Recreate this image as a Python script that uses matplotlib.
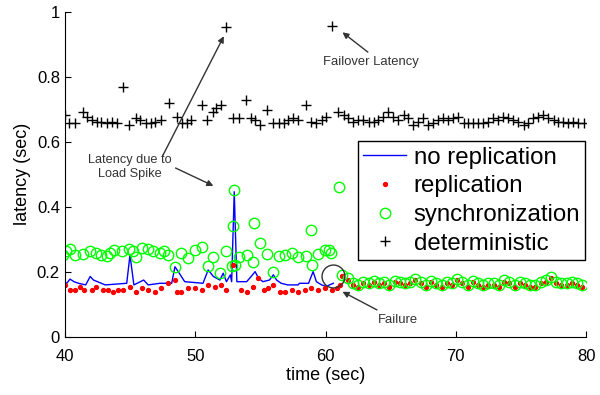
import matplotlib

matplotlib.use("Agg")
import matplotlib.pyplot as plt

plt.rcParams["font.family"] = ["Liberation Sans", "DejaVu Sans"]

# no replication (blue line)
t_norep = [39.9, 40.15, 40.4, 40.7, 41.05, 41.6, 41.95, 42.2, 43.1, 44.75, 45.0, 45.3,
           46.05, 46.4, 47.3, 48.2, 48.45, 48.7, 49.2, 50.6, 51.0, 51.4, 51.9, 52.15,
           52.4, 52.7, 52.8, 53.0, 53.2, 53.95, 54.3, 54.6, 54.85, 55.2, 55.7, 56.0,
           56.25, 56.6, 57.1, 57.9, 58.0, 58.7, 59.05, 59.3, 59.7, 60.1, 60.3, 60.6]
v_norep = [0.169, 0.164, 0.177, 0.169, 0.164, 0.159, 0.185, 0.174, 0.159, 0.164, 0.251, 0.159,
           0.174, 0.159, 0.164, 0.164, 0.215, 0.200, 0.169, 0.164, 0.205, 0.185, 0.174, 0.195,
           0.169, 0.190, 0.169, 0.446, 0.169, 0.169, 0.185, 0.200, 0.180, 0.169, 0.174, 0.190,
           0.174, 0.164, 0.159, 0.159, 0.164, 0.164, 0.200, 0.169, 0.159, 0.154, 0.159, 0.164]

# replication (red dots)
t_rep = [40.0, 40.4, 40.8, 41.15, 41.5, 42.05, 42.4, 42.95, 43.3, 43.7, 44.1, 44.5,
         45.0, 45.5, 45.9, 46.4, 46.9, 47.4, 47.9, 48.45, 48.6, 48.95, 49.45, 50.0,
         50.5, 51.0, 51.5, 52.0, 52.4, 52.9, 53.55, 53.95, 54.45, 54.85, 55.25, 55.6,
         56.0, 56.5, 56.9, 57.4, 57.9, 58.4, 58.9, 59.4, 59.95, 60.5, 60.85, 61.1,
         61.3, 61.7, 62.1, 62.5, 62.9, 63.3, 63.7, 64.1, 64.5, 64.9, 65.3, 65.7,
         66.1, 66.5, 66.9, 67.3, 67.7, 68.1, 68.5, 68.9, 69.3, 69.7, 70.1, 70.5,
         70.9, 71.3, 71.7, 72.1, 72.5, 72.9, 73.3, 73.7, 74.1, 74.5, 74.9, 75.3,
         75.7, 76.1, 76.5, 76.9, 77.3, 77.7, 78.1, 78.5, 78.9, 79.3, 79.7]
v_rep = [0.159, 0.144, 0.144, 0.154, 0.144, 0.144, 0.154, 0.144, 0.144, 0.138, 0.144, 0.144,
         0.154, 0.138, 0.149, 0.144, 0.138, 0.149, 0.164, 0.174, 0.138, 0.138, 0.149, 0.149,
         0.144, 0.159, 0.154, 0.159, 0.144, 0.221, 0.144, 0.138, 0.154, 0.180, 0.144, 0.149,
         0.159, 0.138, 0.138, 0.144, 0.138, 0.144, 0.149, 0.144, 0.149, 0.144, 0.149, 0.159,
         0.185, 0.174, 0.159, 0.154, 0.164, 0.159, 0.169, 0.159, 0.164, 0.154, 0.169, 0.164,
         0.159, 0.164, 0.174, 0.164, 0.154, 0.169, 0.159, 0.154, 0.164, 0.159, 0.174, 0.166,
         0.154, 0.169, 0.159, 0.154, 0.159, 0.159, 0.154, 0.169, 0.164, 0.154, 0.164, 0.159,
         0.154, 0.154, 0.164, 0.169, 0.180, 0.164, 0.159, 0.159, 0.164, 0.159, 0.154]

# synchronization (green circles)
t_sync = [39.9, 40.1, 40.4, 40.8, 41.4, 41.9, 42.4, 42.8, 43.2, 43.5, 43.8, 44.35,
          44.9, 45.2, 45.5, 45.9, 46.4, 46.8, 47.3, 47.6, 47.9, 48.45, 48.95, 49.45,
          50.0, 50.5, 51.0, 51.4, 51.9, 52.4, 52.8, 52.9, 52.95, 53.05, 53.4, 53.95,
          54.45, 54.5, 55.0, 55.5, 56.0, 56.4, 56.9, 57.4, 57.9, 58.5, 58.9, 58.95,
          59.45, 59.95, 60.3, 60.45, 61.0,
          61.3, 61.7, 62.1, 62.5, 62.9, 63.3, 63.7, 64.1, 64.5, 64.9, 65.3, 65.7,
          66.1, 66.5, 66.9, 67.3, 67.7, 68.1, 68.5, 68.9, 69.3, 69.7, 70.1, 70.5,
          70.9, 71.3, 71.7, 72.1, 72.5, 72.9, 73.3, 73.7, 74.1, 74.5, 74.9, 75.3,
          75.7, 76.1, 76.5, 76.9, 77.3, 77.7, 78.1, 78.5, 78.9, 79.3, 79.7]
v_sync = [0.251, 0.262, 0.269, 0.251, 0.254, 0.262, 0.257, 0.251, 0.248, 0.257, 0.267, 0.262,
          0.269, 0.262, 0.246, 0.272, 0.269, 0.262, 0.257, 0.262, 0.251, 0.215, 0.257, 0.241,
          0.267, 0.277, 0.218, 0.246, 0.197, 0.262, 0.218, 0.341, 0.451, 0.221, 0.246, 0.251,
          0.231, 0.351, 0.289, 0.254, 0.200, 0.248, 0.251, 0.257, 0.246, 0.248, 0.328, 0.221,
          0.254, 0.267, 0.267, 0.257, 0.462,
          0.190, 0.180, 0.164, 0.159, 0.169, 0.164, 0.172, 0.164, 0.169, 0.159, 0.172, 0.169,
          0.164, 0.167, 0.177, 0.167, 0.159, 0.172, 0.164, 0.159, 0.169, 0.164, 0.177, 0.169,
          0.159, 0.172, 0.164, 0.159, 0.164, 0.164, 0.159, 0.174, 0.169, 0.159, 0.169, 0.164,
          0.159, 0.159, 0.169, 0.174, 0.182, 0.169, 0.164, 0.164, 0.169, 0.164, 0.159]

# deterministic (black plus)
t_det = [40.0, 40.3, 40.8, 41.4, 41.7, 42.1, 42.5, 42.8, 43.2, 43.6, 44.0, 44.5,
         44.9, 45.5, 45.8, 46.2, 46.6, 46.9, 47.4, 47.96, 48.6, 49.0, 49.4, 49.7,
         50.5, 50.9, 51.4, 51.6, 52.0, 52.4, 52.9, 53.4, 53.9, 54.3, 54.6, 55.0,
         55.5, 56.0, 56.4, 56.8, 57.1, 57.5, 57.9, 58.5, 58.9, 59.3, 59.7, 60.0,
         60.47, 60.95, 61.4, 61.75, 62.1, 62.5, 62.9, 63.3, 63.7, 64.0, 64.4, 64.8,
         65.2, 65.6, 66.0, 66.3, 66.73, 67.1, 67.5, 67.9, 68.27, 68.65, 69.03, 69.4,
         69.8, 70.2, 70.6, 70.95, 71.3, 71.7, 72.1, 72.5, 72.87, 73.25, 73.6, 74.0,
         74.4, 74.8, 75.2, 75.55, 75.94, 76.3, 76.7, 77.1, 77.5, 77.86, 78.24, 78.6,
         79.0, 79.4, 79.8]
v_det = [0.682, 0.657, 0.657, 0.692, 0.677, 0.667, 0.662, 0.662, 0.657, 0.662, 0.657, 0.769,
         0.651, 0.672, 0.667, 0.657, 0.657, 0.662, 0.667, 0.718, 0.677, 0.657, 0.657, 0.667,
         0.713, 0.667, 0.692, 0.703, 0.713, 0.954, 0.672, 0.672, 0.728, 0.672, 0.667, 0.651,
         0.697, 0.657, 0.657, 0.657, 0.667, 0.672, 0.667, 0.713, 0.662, 0.657, 0.667, 0.677,
         0.957, 0.692, 0.682, 0.672, 0.662, 0.667, 0.667, 0.662, 0.662, 0.667, 0.677, 0.692,
         0.677, 0.667, 0.682, 0.672, 0.651, 0.662, 0.672, 0.651, 0.657, 0.667, 0.672, 0.667,
         0.672, 0.677, 0.657, 0.657, 0.657, 0.657, 0.657, 0.662, 0.672, 0.667, 0.677, 0.672,
         0.667, 0.662, 0.651, 0.657, 0.672, 0.677, 0.682, 0.672, 0.667, 0.662, 0.662, 0.657,
         0.662, 0.657, 0.657]

# failure marker
t_fail = [60.6]
v_fail = [0.185]

fig = plt.figure(figsize=(6, 3.95), dpi=100)
ax = fig.add_axes([0.108, 0.148, 0.869, 0.822])

ax.plot(t_norep, v_norep, color="#0000ff", lw=1, label="no replication")
ax.plot(t_rep, v_rep, ls="none", marker="o", ms=2.8, mfc="#ff0000", mec="#ff0000",
        label="replication")
ax.plot(t_sync, v_sync, ls="none", marker="o", ms=7.5, mfc="none", mec="#00ff00",
        mew=1.0, label="synchronization")
ax.plot(t_det, v_det, ls="none", marker="+", ms=7.5, color="black", mew=1.0,
        label="deterministic")
ax.plot(t_fail, v_fail, ls="none", marker="o", ms=16.5, mfc="none", mec="#333333", mew=1.0)

ax.set_xlim(40, 80)
ax.set_ylim(0, 1)
ax.set_xticks([40, 50, 60, 70, 80])
ax.set_yticks([0, 0.2, 0.4, 0.6, 0.8, 1])
ax.set_yticklabels(["0", "0.2", "0.4", "0.6", "0.8", "1"])
ax.tick_params(direction="in", labelsize=12, length=4)
ax.tick_params(axis="x", pad=9)
for s in ["top", "right"]:
    ax.spines[s].set_visible(False)
ax.set_xlabel("time (sec)", fontsize=13, labelpad=2)
ax.set_ylabel("latency (sec)", fontsize=13, labelpad=4)

# annotations
arrow = dict(arrowstyle="-|>", color="#333333", lw=1, mutation_scale=9, shrinkA=0, shrinkB=0)
ax.text(45.0, 0.522, "Latency due to\nLoad Spike", fontsize=9.2, ha="center", va="center",
        color="#333333")
ax.annotate("", xy=(52.2, 0.925), xytext=(47.5, 0.556), arrowprops=arrow)
ax.annotate("", xy=(51.4, 0.464), xytext=(48.5, 0.519), arrowprops=arrow)
ax.text(63.5, 0.845, "Failover Latency", fontsize=9.4, ha="center", va="center", color="#333333")
ax.annotate("", xy=(61.3, 0.937), xytext=(63.25, 0.876), arrowprops=arrow)
ax.text(65.55, 0.051, "Failure", fontsize=9.4, ha="center", va="center", color="#333333")
ax.annotate("", xy=(61.3, 0.138), xytext=(63.95, 0.082), arrowprops=arrow)

leg = ax.legend(loc="upper left", bbox_to_anchor=(0.562, 0.601), fontsize=17.3,
                frameon=True, fancybox=False, edgecolor="black", framealpha=1,
                handlelength=1.8, labelspacing=0.28, borderpad=0.22, handletextpad=0.3,
                borderaxespad=0)
leg.get_frame().set_linewidth(1)

fig.savefig("out.png", dpi=100)
